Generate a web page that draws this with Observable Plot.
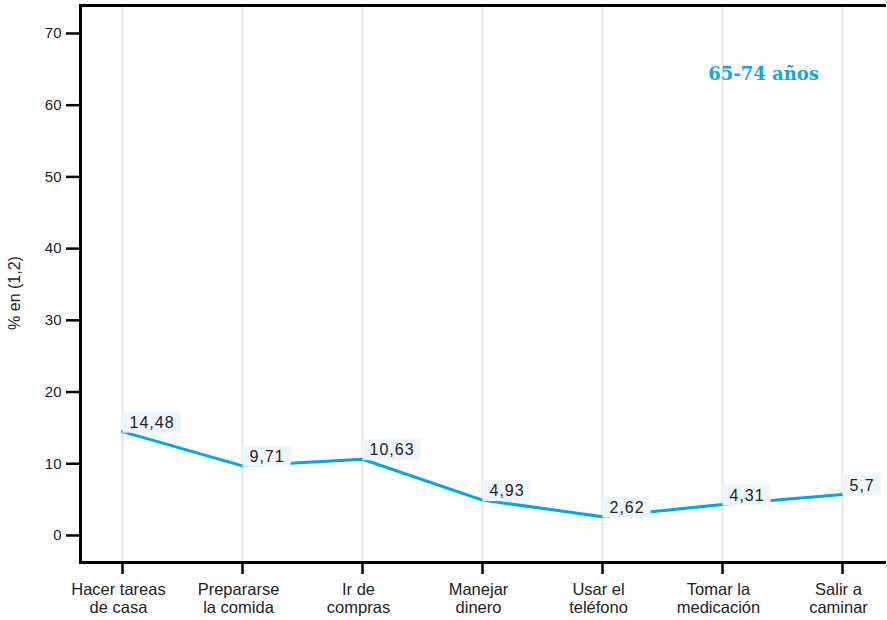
<!DOCTYPE html>
<html>
<head>
<meta charset="utf-8">
<script src="https://cdn.jsdelivr.net/npm/d3@7"></script>
<script src="https://cdn.jsdelivr.net/npm/@observablehq/plot@0.6"></script>
<style>
  body { margin: 0; background: #fff; }
  svg { display: block; }
</style>
</head>
<body>
<div id="chart"></div>
<script>
const categories = ["Hacer tareas\nde casa", "Prepararse\nla comida", "Ir de\ncompras", "Manejar\ndinero", "Usar el\nteléfono", "Tomar la\nmedicación", "Salir a\ncaminar"];
const values = [14.48, 9.71, 10.63, 4.93, 2.62, 4.31, 5.7];
const valueLabels = ["14,48", "9,71", "10,63", "4,93", "2,62", "4,31", "5,7"];
const yTicks = [0, 10, 20, 30, 40, 50, 60, 70];
const yDomain = [-3.77, 73.9];
const title = "65-74 años";
const yLabel = "% en (1,2)";

const data = categories.map((c, i) => ({cat: c, v: values[i], label: valueLabels[i]}));

const lineColor = "#00a7e7";

const plot = Plot.plot({
  width: 887,
  height: 620,
  marginLeft: 80,
  marginRight: 3,
  marginTop: 5,
  marginBottom: 58,
  style: {fontFamily: "'Liberation Sans', Arial, sans-serif", fontSize: "15px", color: "#222", background: "#fff"},
  x: {type: "point", domain: categories, padding: 0.35, label: null},
  y: {domain: yDomain, label: null},
  marks: [
    Plot.gridX(categories, {stroke: "#e4e4e4", strokeOpacity: 1, strokeWidth: 2}),
    Plot.axisY(yTicks, {tickSize: 14, tickPadding: 5, stroke: "#000", strokeWidth: 2.5, fill: "#222", fontSize: 15, label: null}),
    Plot.axisX({tickSize: 12, text: null, stroke: "#000", strokeWidth: 2.5, label: null}),
    Plot.axisX({tickSize: 0, tickPadding: 20, fill: "#222", fontSize: 16.5, lineHeight: 1.08, dx: -4, label: null}),
    Plot.frame({anchor: "left", stroke: "#000", strokeWidth: 3}),
    Plot.frame({anchor: "bottom", stroke: "#000", strokeWidth: 3}),
    Plot.frame({anchor: "top", stroke: "#000", strokeWidth: 3}),
    Plot.line(data, {x: "cat", y: "v", stroke: lineColor, strokeWidth: 3}),
    Plot.text(data, {x: "cat", y: "v", text: "label", textAnchor: "start", lineAnchor: "bottom", dx: 7, dy: -4, fill: "#222", fontSize: 16, className: "vlabel"}),
    Plot.text([title], {frameAnchor: "top-right", dx: -121, dy: 62, text: d => d, fill: "#12a5e3", fontSize: 18, fontWeight: "bold", fontFamily: "'DejaVu Serif', serif", textAnchor: "middle", className: "ttl"})
  ]
});

document.getElementById("chart").append(plot);

const svg = d3.select(plot);
svg.selectAll("g.vlabel text").style("letter-spacing", "1px");

// y axis label
svg.append("text")
  .attr("transform", "translate(20,293) rotate(-90)")
  .attr("text-anchor", "middle")
  .attr("fill", "#222")
  .attr("font-size", 16)
  .text(yLabel);

// label backgrounds
svg.selectAll("g.vlabel text").each(function() {
  const b = this.getBBox();
  const ctm = this.getAttribute("transform");
  const r = document.createElementNS("http://www.w3.org/2000/svg", "rect");
  r.setAttribute("x", b.x - 7);
  r.setAttribute("y", b.y - 2);
  r.setAttribute("width", b.width + 13);
  r.setAttribute("height", b.height + 4);
  r.setAttribute("fill", "#eef5fc");
  if (ctm) r.setAttribute("transform", ctm);
  this.parentNode.insertBefore(r, this);
});
</script>
</body>
</html>
